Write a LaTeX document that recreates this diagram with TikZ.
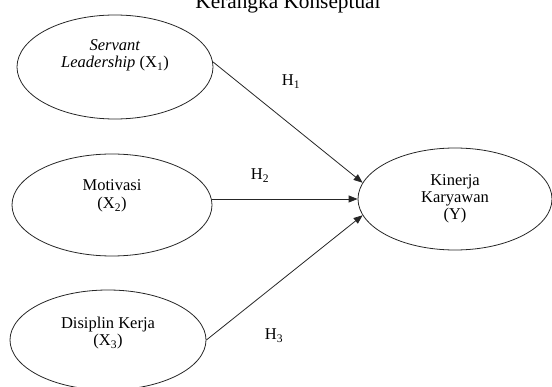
\documentclass[tikz,border=0pt]{standalone}
\usepackage{fontspec}
\setmainfont{Liberation Serif}
\usetikzlibrary{shapes.geometric,arrows.meta}
\tikzset{
  var/.style={draw=black!85, line width=0.8pt, ellipse, inner sep=0pt},
  lbl/.style={anchor=base, inner sep=0pt, font=\fontsize{16.5}{18}\selectfont},
  conn/.style={draw=black!85, line width=0.8pt, -{Triangle[length=9pt,width=7pt]}},
}
\begin{document}
\begin{tikzpicture}[x=1pt,y=-1pt]
\useasboundingbox (0,0) rectangle (552,387);
\node[anchor=base, inner sep=0pt, font=\fontsize{21.3}{24}\selectfont] (title) at (288,9) {Kerangka Konseptual};
\node[var, minimum width=196pt, minimum height=104pt] (e1) at (115,67) {};
\node[var, minimum width=200pt, minimum height=102pt] (e2) at (112,205) {};
\node[var, minimum width=196pt, minimum height=100pt] (e3) at (108,340) {};
\node[var, minimum width=194pt, minimum height=102pt] (ey) at (455,199) {};
\node[lbl] (t1a) at (115,51) {\textit{Servant}};
\node[lbl] (t1b) at (115,68) {\textit{Leadership} (X\textsubscript{1})};
\node[lbl] (t2a) at (112,191) {Motivasi};
\node[lbl] (t2b) at (112,209) {(X\textsubscript{2})};
\node[lbl] (t3a) at (108,329) {Disiplin Kerja};
\node[lbl] (t3b) at (108,346) {(X\textsubscript{3})};
\node[lbl] (tya) at (455,186) {Kinerja};
\node[lbl] (tyb) at (455,203) {Karyawan};
\node[lbl] (tyc) at (455,220) {(Y)};
\node[lbl] (h1) at (291,86) {H\textsubscript{1}};
\node[lbl] (h2) at (260,180) {H\textsubscript{2}};
\node[lbl] (h3) at (274,340) {H\textsubscript{3}};
\draw[conn] (e1.3) -- (ey.170);
\draw[conn] (e2.east |- ey.west) -- (ey.west);
\draw[conn] (e3.east) -- (ey.190);
\end{tikzpicture}
\end{document}
